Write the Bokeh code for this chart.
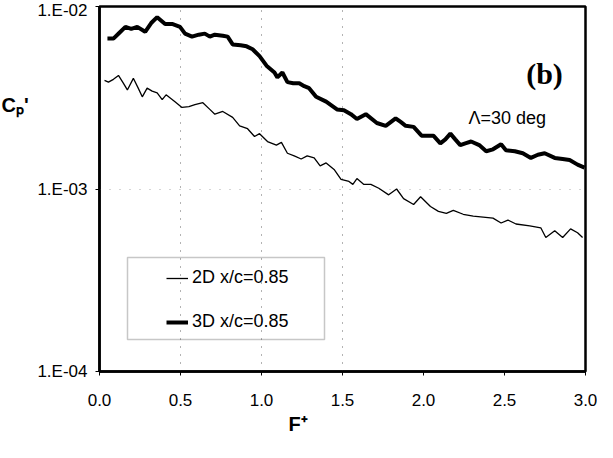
from bokeh.plotting import figure
from bokeh.layouts import row
from bokeh.models import (FixedTicker, Legend, LegendItem, Label, BoxAnnotation,
                          NumeralTickFormatter, Title)
from bokeh.embed import file_html
from bokeh.resources import INLINE

# ---- data ----
f_3d = [0.049, 0.086, 0.123, 0.160, 0.196, 0.233, 0.282, 0.319, 0.356, 0.405,
        0.448, 0.497, 0.528, 0.571, 0.613, 0.650, 0.681, 0.712, 0.761, 0.791,
        0.822, 0.871, 0.908, 0.945, 0.988, 1.031, 1.080, 1.098, 1.129, 1.160,
        1.196, 1.233, 1.264, 1.294, 1.337, 1.399, 1.466, 1.509, 1.552, 1.589,
        1.644, 1.712, 1.767, 1.828, 1.859, 1.890, 1.939, 1.988, 2.025, 2.061,
        2.104, 2.135, 2.166, 2.196, 2.227, 2.258, 2.294, 2.344, 2.387, 2.429,
        2.479, 2.509, 2.564, 2.613, 2.663, 2.706, 2.748, 2.810, 2.859, 2.902,
        2.951, 2.994]
cp_3d = [6.67e-3, 6.67e-3, 7.18e-3, 7.73e-3, 7.54e-3, 7.73e-3, 7.27e-3, 8.12e-3, 8.74e-3, 8.02e-3,
         8.02e-3, 7.73e-3, 7.10e-3, 6.84e-3, 7.01e-3, 7.10e-3, 6.84e-3, 7.01e-3, 6.92e-3, 6.84e-3,
         6.20e-3, 6.13e-3, 6.05e-3, 5.83e-3, 5.35e-3, 4.74e-3, 4.35e-3, 4.09e-3, 4.35e-3, 3.85e-3,
         3.80e-3, 3.80e-3, 3.66e-3, 3.57e-3, 3.20e-3, 3.01e-3, 2.73e-3, 2.70e-3, 2.57e-3, 2.42e-3,
         2.57e-3, 2.30e-3, 2.22e-3, 2.44e-3, 2.33e-3, 2.22e-3, 2.19e-3, 1.96e-3, 1.96e-3, 1.96e-3,
         1.78e-3, 1.87e-3, 2.01e-3, 1.87e-3, 1.74e-3, 1.78e-3, 1.82e-3, 1.74e-3, 1.61e-3, 1.65e-3,
         1.76e-3, 1.63e-3, 1.61e-3, 1.57e-3, 1.48e-3, 1.54e-3, 1.57e-3, 1.48e-3, 1.46e-3, 1.44e-3,
         1.36e-3, 1.31e-3]

f_2d = [0.031, 0.055, 0.086, 0.117, 0.147, 0.172, 0.209, 0.239, 0.264, 0.294,
        0.325, 0.356, 0.387, 0.411, 0.466, 0.509, 0.552, 0.589, 0.638, 0.681,
        0.712, 0.761, 0.822, 0.865, 0.914, 0.957, 0.988, 1.037, 1.092, 1.123,
        1.160, 1.202, 1.245, 1.282, 1.325, 1.362, 1.399, 1.448, 1.491, 1.540,
        1.564, 1.589, 1.632, 1.675, 1.724, 1.785, 1.834, 1.877, 1.939, 1.982,
        2.043, 2.092, 2.141, 2.184, 2.245, 2.307, 2.368, 2.429, 2.479, 2.521,
        2.571, 2.656, 2.724, 2.755, 2.810, 2.859, 2.908, 2.951, 2.982]
cp_2d = [3.94e-3, 3.85e-3, 3.99e-3, 4.19e-3, 3.80e-3, 3.49e-3, 4.04e-3, 3.57e-3, 3.20e-3, 3.57e-3,
         3.44e-3, 3.36e-3, 3.09e-3, 3.28e-3, 3.01e-3, 2.80e-3, 2.83e-3, 2.90e-3, 2.97e-3, 2.73e-3,
         2.57e-3, 2.66e-3, 2.47e-3, 2.22e-3, 2.14e-3, 1.94e-3, 2.01e-3, 1.82e-3, 1.74e-3, 1.80e-3,
         1.57e-3, 1.52e-3, 1.46e-3, 1.52e-3, 1.48e-3, 1.34e-3, 1.39e-3, 1.28e-3, 1.13e-3, 1.10e-3,
         1.06e-3, 1.14e-3, 1.06e-3, 1.06e-3, 1.01e-3, 9.29e-4, 1.00e-3, 8.85e-4, 8.22e-4, 9.07e-4,
         8.02e-4, 7.54e-4, 7.36e-4, 7.64e-4, 7.27e-4, 7.10e-4, 7.01e-4, 6.92e-4, 6.51e-4, 6.76e-4,
         6.43e-4, 6.28e-4, 6.13e-4, 5.42e-4, 5.91e-4, 5.42e-4, 6.05e-4, 5.76e-4, 5.42e-4]

x_ticks = [0.0, 0.5, 1.0, 1.5, 2.0, 2.5, 3.0]
x_grid = [0.5, 1.0, 1.5]
y_ticks = [1e-4, 1e-3, 1e-2]
y_tick_labels = ["1.E-04", "1.E-03", "1.E-02"]
y_grid = [1e-3]
legend_labels = ["2D x/c=0.85", "3D x/c=0.85"]
x_title = "F\u207a"
y_title = "C\u209a'"

FONT = "Liberation Sans"
H = 442

# ---- narrow left strip holding the horizontal y-axis title ----
pl = figure(width=34, height=H, x_range=(0, 1), y_range=(0, 1),
            output_backend="svg", toolbar_location=None,
            x_axis_location=None, y_axis_location=None,
            min_border=0, outline_line_color=None)
pl.grid.visible = False
pl.background_fill_color = "white"
pl.border_fill_color = "white"
pl.add_layout(Label(text=y_title, x=1, y=267, x_units="screen", y_units="screen",
                    text_font=FONT, text_font_size="20px", text_font_style="bold",
                    text_align="left", text_baseline="middle", text_color="black"))

# ---- main chart ----
p = figure(width=563, height=H, x_range=(0, 3), y_range=(1e-4, 1e-2),
           y_axis_type="log", output_backend="svg", toolbar_location=None,
           min_border_left=62, min_border_right=12, min_border_top=6,
           min_border_bottom=71)
p.background_fill_color = "white"
p.border_fill_color = "white"
p.outline_line_color = "black"
p.outline_line_width = 2.5

# axes
p.xaxis.ticker = FixedTicker(ticks=x_ticks, minor_ticks=[])
p.xaxis.formatter = NumeralTickFormatter(format="0.0")
p.yaxis.ticker = FixedTicker(ticks=y_ticks, minor_ticks=[])
p.yaxis.major_label_overrides = dict(zip(y_ticks, y_tick_labels))
for ax in (p.xaxis[0], p.yaxis[0]):
    ax.axis_line_width = 2.5
    ax.axis_line_color = "black"
    ax.major_tick_in = 0
    ax.major_tick_out = 4
    ax.major_tick_line_color = "black"
    ax.minor_tick_line_color = None
    ax.major_label_text_font = FONT
    ax.major_label_text_font_size = "17px"
    ax.major_label_text_color = "black"
p.xaxis.major_label_standoff = 18
p.yaxis.major_label_standoff = 8

# grids
p.xgrid.ticker = FixedTicker(ticks=x_grid)
p.xgrid.grid_line_color = "#666666"
p.xgrid.grid_line_dash = "1 7"
p.xgrid.grid_line_width = 1
p.ygrid.ticker = FixedTicker(ticks=y_grid)
p.ygrid.grid_line_color = "#aaaaaa"
p.ygrid.grid_line_dash = "1 9"
p.ygrid.grid_line_width = 1

# data lines
r2 = p.line(f_2d, cp_2d, line_width=1.3, line_color="black")
r3 = p.line(f_3d, cp_3d, line_width=4, line_color="black")

# legend frame
box = BoxAnnotation(left=28, right=225, bottom=32, top=114,
                    left_units="screen", right_units="screen",
                    bottom_units="screen", top_units="screen",
                    fill_alpha=0, line_color="#444444", line_width=1.5)
p.add_layout(box)

legend = Legend(items=[LegendItem(label=legend_labels[0], renderers=[r2]),
                       LegendItem(label=legend_labels[1], renderers=[r3])],
                location=(62, 34), padding=5, spacing=23,
                glyph_width=22, glyph_height=20, label_height=20,
                label_standoff=4, border_line_alpha=0, background_fill_alpha=0,
                label_text_font=FONT, label_text_font_size="18px",
                label_text_color="black")
p.add_layout(legend)

def lab(text, x, y, size, bold=True, align="left", baseline="middle", font=FONT):
    p.add_layout(Label(text=text, x=x, y=y, x_units="screen", y_units="screen",
                       text_font=font, text_font_size=size,
                       text_font_style="bold" if bold else "normal",
                       text_align=align, text_baseline=baseline,
                       text_color="black"))

lab("(b)", 445, 298, "30px", bold=True, align="center", font="Liberation Serif")
lab("\u039b=30 deg", 369, 254, "18px", bold=False)

# x-axis title
xt = Title(text=x_title, align="left", offset=189, standoff=4,
           text_font=FONT, text_font_size="20px", text_font_style="bold",
           text_color="black")
p.add_layout(xt, "below")

layout = row(pl, p, spacing=0)
open("out.html", "w").write(file_html(layout, INLINE))
